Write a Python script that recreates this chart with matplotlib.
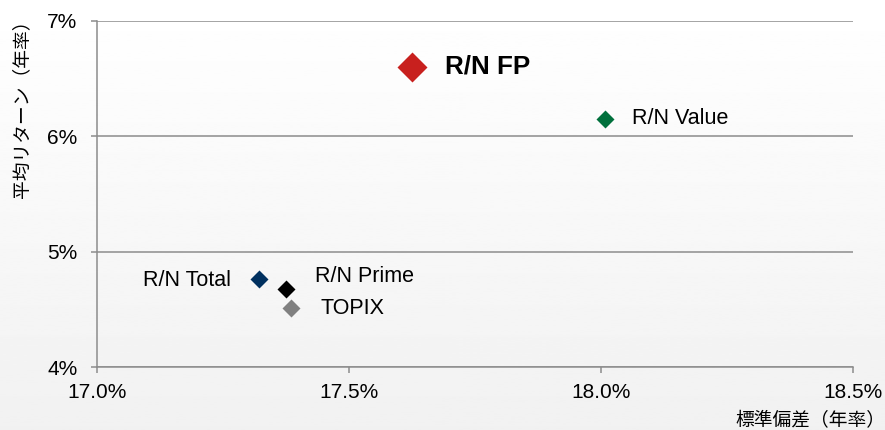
import numpy as np
from matplotlib import pyplot as plt

# data
names = ["R/N FP", "R/N Value", "R/N Total", "R/N Prime", "TOPIX"]
risk = [17.626, 18.009, 17.321, 17.376, 17.386]      # 標準偏差(年率) %
ret = [6.60, 6.15, 4.76, 4.68, 4.51]                 # 平均リターン(年率) %
colors = ["#C8201E", "#00703C", "#00305F", "#000000", "#808080"]
sizes = [15.5, 9.5, 9.0, 9.0, 9.0]
x_ticks = [17.0, 17.5, 18.0, 18.5]
y_ticks = [4, 5, 6, 7]

plt.rcParams["font.family"] = ["Liberation Sans", "Noto Sans CJK JP"]
plt.rcParams["font.size"] = 14

fig = plt.figure(figsize=(8.85, 4.3), dpi=100)

# soft vertical gradient behind everything
bg = fig.add_axes([0, 0, 1, 1], zorder=-10)
grad = np.linspace(1.0, 0.945, 256).reshape(-1, 1)
bg.imshow(grad, aspect="auto", cmap="gray", vmin=0, vmax=1, extent=[0, 1, 0, 1])
bg.axis("off")

ax = fig.add_axes([0.1093, 0.1458, 0.9635 - 0.1093, 0.9519 - 0.1458])
ax.set_facecolor("none")

grid_c = "#8C8C8C"
for i in range(len(names)):
    ax.plot(risk[i], ret[i], marker="D", ms=sizes[i], color=colors[i],
            mec="none", ls="none", zorder=3)

# labels
offsets = [(23.5, 0), (19, 0), (-19.5, -1), (21, 9), (21, 0)]
for i, name in enumerate(names):
    dx, dy = offsets[i]
    ax.annotate(name, (risk[i], ret[i]), xytext=(dx, dy), textcoords="offset points",
                ha="right" if dx < 0 else "left", va="center",
                fontsize=18.7 if i == 0 else 15.5,
                fontweight="bold" if i == 0 else "normal", color="#000000")

ax.set_xlim(17.0, 18.5)
ax.set_ylim(4, 7)
ax.set_xticks(x_ticks)
ax.set_xticklabels([f"{v:.1f}%" for v in x_ticks])
ax.set_yticks(y_ticks)
ax.set_yticklabels([f"{v}%" for v in y_ticks])

ax.grid(axis="y", color=grid_c, lw=1.1, zorder=1)
ax.set_axisbelow(True)
for s in ["top", "right"]:
    ax.spines[s].set_visible(False)
for s in ["left", "bottom"]:
    ax.spines[s].set_color(grid_c)
    ax.spines[s].set_linewidth(1.1)
ax.tick_params(axis="both", color=grid_c, length=4.5, width=1.1, labelsize=15)
ax.tick_params(axis="y", pad=9.5)
ax.tick_params(axis="x", pad=7)

jp = ["Noto Sans CJK JP", "Liberation Sans"]
fig.text(0.024, 0.975, "平均リターン（年率）", rotation=90, ha="center", va="top",
         fontsize=13.5, family=jp)
fig.text(1.0, 0.022, "標準偏差（年率）", ha="right", va="center", fontsize=13.5, family=jp)

plt.savefig("out.png", dpi=100)
